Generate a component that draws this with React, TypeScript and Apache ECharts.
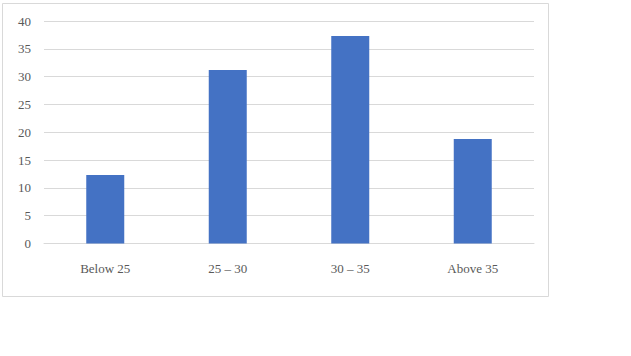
import React, { useEffect, useRef } from "react";
import * as echarts from "echarts";

const categories = ["Below 25", "25 – 30", "30 – 35", "Above 35"];
const values = [12.3, 31.2, 37.3, 18.8];
const yMin = 0;
const yMax = 40;
const yStep = 5;

const FONT = "'Liberation Serif', 'Times New Roman', serif";

export default function App() {
  const ref = useRef<HTMLDivElement>(null);
  useEffect(() => {
    if (!ref.current) return;
    const chart = echarts.init(ref.current, undefined, { renderer: "svg" });
    chart.setOption({
      animation: false,
      backgroundColor: "#ffffff",
      graphic: [
        {
          type: "rect",
          shape: { x: 2.5, y: 3.5, width: 546, height: 293 },
          style: { fill: "none", stroke: "#d9d9d9", lineWidth: 1 },
          silent: true,
        },
      ],
      grid: { left: 44, right: 97, top: 21, bottom: 112.5, containLabel: false },
      xAxis: {
        type: "category",
        data: categories,
        axisLine: { show: true, lineStyle: { color: "#d9d9d9", width: 1 } },
        axisTick: { show: false },
        axisLabel: {
          color: "#595959",
          fontFamily: FONT,
          fontSize: 13,
          margin: 18,
        },
      },
      yAxis: {
        type: "value",
        min: yMin,
        max: yMax,
        interval: yStep,
        axisLine: { show: false },
        axisTick: { show: false },
        axisLabel: {
          color: "#595959",
          fontFamily: FONT,
          fontSize: 13,
          margin: 13,
        },
        splitLine: { lineStyle: { color: "#d9d9d9", width: 1 } },
      },
      series: [
        {
          type: "bar",
          data: values,
          barWidth: 38,
          itemStyle: { color: "#4472C4" },
        },
      ],
    });
    return () => chart.dispose();
  }, []);
  return (
    <div
      ref={ref}
      style={{ position: "fixed", left: 0, top: 0, width: 631, height: 356 }}
    />
  );
}
